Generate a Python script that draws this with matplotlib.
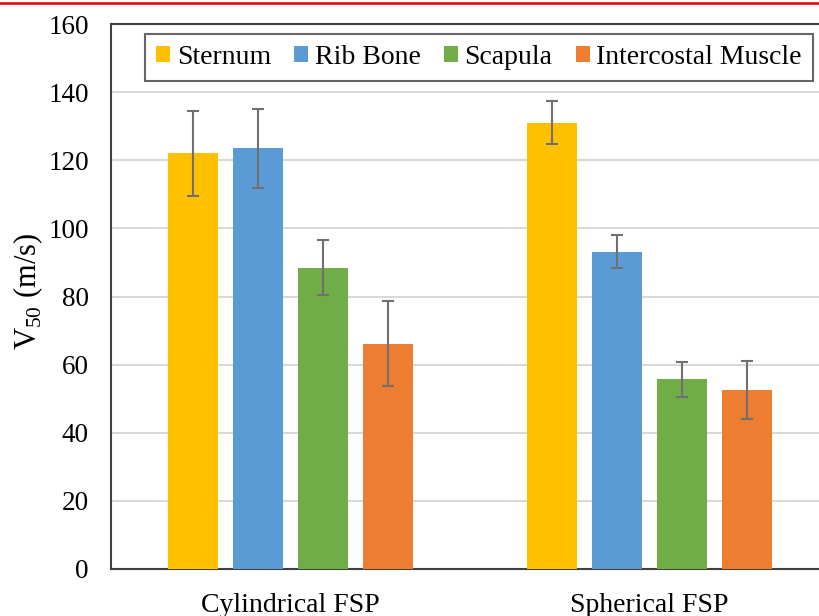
import numpy as np
import matplotlib
matplotlib.use("Agg")
import matplotlib.pyplot as plt
from matplotlib.lines import Line2D

plt.rcParams["font.family"] = ["Liberation Serif", "DejaVu Serif"]
plt.rcParams["mathtext.fontset"] = "custom"
plt.rcParams["mathtext.rm"] = "Liberation Serif"

groups = ["Cylindrical FSP", "Spherical FSP"]
tissues = ["Sternum", "Rib Bone", "Scapula", "Intercostal Muscle"]
v50 = {
    "Sternum": [122.0, 131.0],
    "Rib Bone": [123.5, 93.2],
    "Scapula": [88.5, 55.7],
    "Intercostal Muscle": [66.2, 52.6],
}
err = {
    "Sternum": [12.4, 6.3],
    "Rib Bone": [11.5, 4.8],
    "Scapula": [8.2, 5.1],
    "Intercostal Muscle": [12.6, 8.5],
}
colors = ["#FFC000", "#5B9BD5", "#70AD47", "#ED7D31"]

fig = plt.figure(figsize=(8.19, 6.16), dpi=100)
ax = fig.add_axes([111 / 819, 1 - 569 / 616, 718 / 819, 545 / 616])

x = np.arange(len(groups))
width = 0.139
step = 0.181
for i, (name, c) in enumerate(zip(tissues, colors)):
    ax.bar(x + (i - 1.5) * step, v50[name], width, color=c, label=name,
           yerr=err[name], capsize=4.5,
           error_kw=dict(ecolor="#707070", elinewidth=1.5, capthick=1.5),
           zorder=3)

ax.set_xlim(-0.5, 1.5)
ax.set_ylim(0, 160)
ax.set_yticks(np.arange(0, 161, 20))
ax.set_xticks(x)
ax.set_xticklabels(groups, fontsize=20)
ax.tick_params(axis="y", labelsize=19.5, length=0, pad=16)
ax.tick_params(axis="x", length=0, pad=17)
ax.yaxis.grid(True, color="#D9D9D9", linewidth=1.5, zorder=0)
ax.set_axisbelow(True)
for s in ax.spines.values():
    s.set_color("#404040")
    s.set_linewidth(1.5)
ax.set_ylabel("V$_{\\mathrm{50}}$ (m/s)", fontsize=22)
ax.yaxis.set_label_coords(-0.092, 0.51)

leg = ax.legend(loc="upper left", bbox_to_anchor=(0.047, 0.982),
                borderaxespad=0, ncol=4, fontsize=20, frameon=True, fancybox=False,
                edgecolor="#404040", handlelength=0.5, handleheight=0.5,
                handletextpad=0.25, columnspacing=0.83, borderpad=0.4)
leg.get_frame().set_linewidth(1.5)

fig.add_artist(Line2D([0, 1], [1 - 2.5 / 616, 1 - 2.5 / 616],
                      transform=fig.transFigure, color="#E00000", linewidth=1.8))

fig.savefig("out.png", dpi=100)
